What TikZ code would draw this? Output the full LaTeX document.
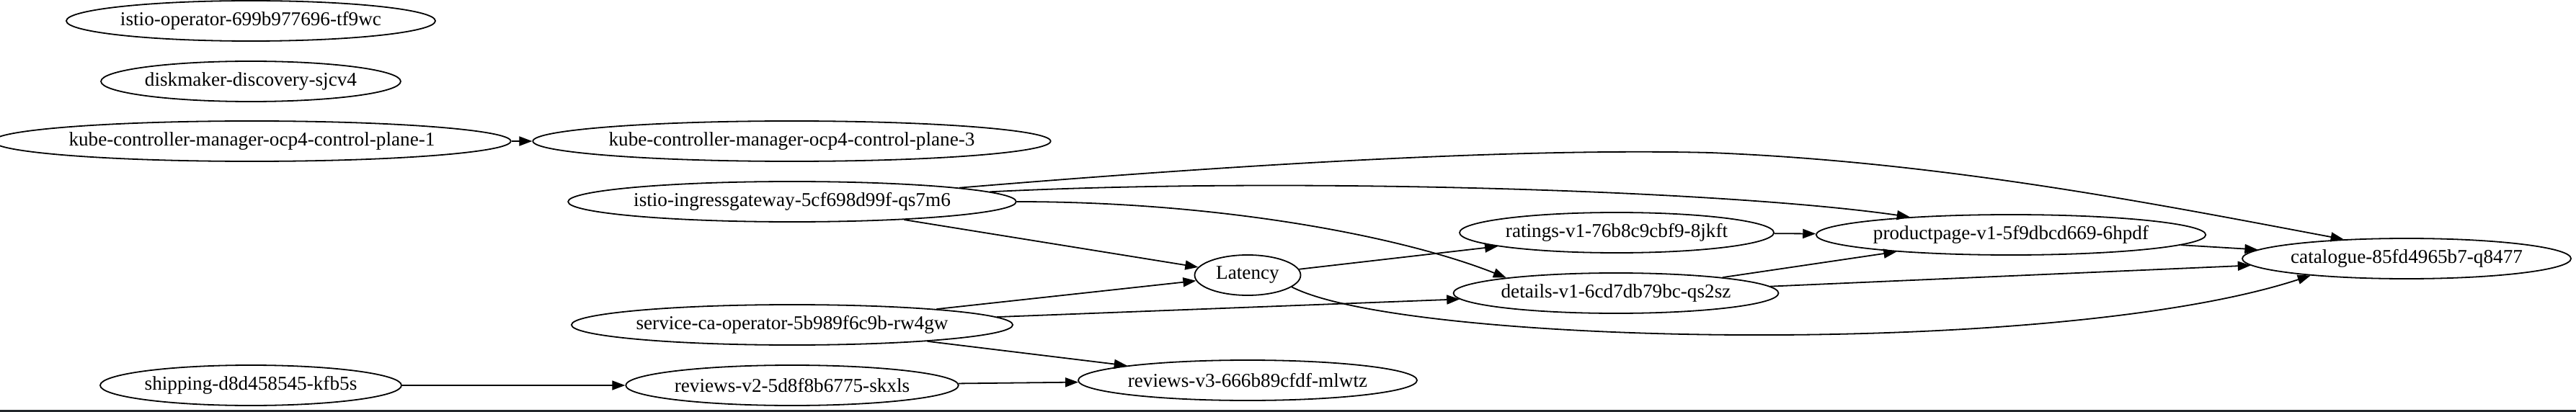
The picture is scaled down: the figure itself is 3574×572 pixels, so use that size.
\documentclass[tikz,border=0pt]{standalone}
\usepackage{fontspec}
\setmainfont{Liberation Serif}
\usepackage{tikz}
\usetikzlibrary{shapes.geometric}
\usetikzlibrary{arrows.meta}
\definecolor{barcol}{RGB}{34,38,43}

\begin{document}
\begin{tikzpicture}[x=0.5pt,y=-0.5pt,
		pod/.style={ellipse,draw=black,line width=0.9pt,inner sep=0pt,minimum height=28pt,font=\fontsize{13.6}{16}\selectfont},
		link/.style={-{Triangle[length=9pt,width=6.5pt]},line width=0.9pt}]
			\useasboundingbox (0,0) rectangle (3574,572);
			\fill[white] (0,0) rectangle (3574,572);
			\fill[barcol] (0,569) rectangle (3574,572);
			
			% pods
			\node[pod,minimum width=254.5pt] (op) at (348,29) {istio-operator-699b977696-tf9wc};
			\node[pod,minimum width=207pt] (disk) at (348,113) {diskmaker-discovery-sjcv4};
			\node[pod,minimum width=347pt] (kcm1) at (349.5,196) {kube-controller-manager-ocp4-control-plane-1};
			\node[pod,minimum width=347.5pt] (kcm3) at (1098.5,196) {kube-controller-manager-ocp4-control-plane-3};
			\node[pod,minimum width=305pt] (gw) at (1099,280) {istio-ingressgateway-5cf698d99f-qs7m6};
			\node[pod,minimum width=73.5pt] (lat) at (1731,382) {Latency};
			\node[pod,minimum width=299pt] (ca) at (1099,451) {service-ca-operator-5b989f6c9b-rw4gw};
			\node[pod,minimum width=209pt] (ship) at (348,535) {shipping-d8d458545-kfb5s};
			\node[pod,minimum width=227.5pt] (rv2) at (1099,535) {reviews-v2-5d8f8b6775-skxls};
			\node[pod,minimum width=229pt] (rv3) at (1731,528) {reviews-v3-666b89cfdf-mlwtz};
			\node[pod,minimum width=218pt] (rat) at (2243,323) {ratings-v1-76b8c9cbf9-8jkft};
			\node[pod,minimum width=225.5pt] (det) at (2242,407) {details-v1-6cd7db79bc-qs2sz};
			\node[pod,minimum width=265pt] (pp) at (2790,326) {productpage-v1-5f9dbcd669-6hpdf};
			\node[pod,minimum width=228pt] (cat) at (3339,359) {catalogue-85fd4965b7-q8477};
			
			% calls
			\foreach \a/\b in {kcm1/kcm3,gw/lat,ca/lat,ca/det,ca/rv3,lat/rat,rat/pp,det/pp,det/cat,pp/cat,ship/rv2,rv2/rv3}
				\draw[link] (\a) -- (\b);
			\draw[link] (gw) .. controls (1700,230) and (2100,205) .. (2373,212) .. controls (2700,225) and (3000,285) .. (cat.163);
			\draw[link] (gw) .. controls (1800,245) and (2400,265) .. (pp.170);
			\draw[link] (gw) .. controls (1700,280) and (1950,330) .. (det.172);
			\draw[link] (lat.-15) .. controls (1950,480) and (2853,498) .. (cat.190);
			
		\end{tikzpicture}
\end{document}
